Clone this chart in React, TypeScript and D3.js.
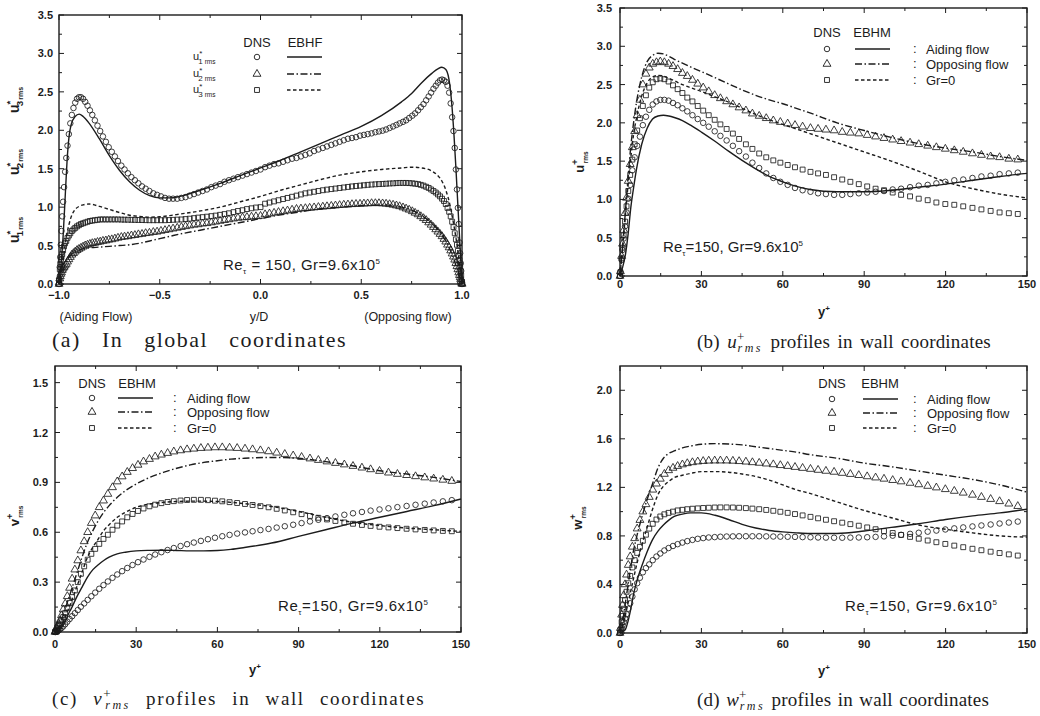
import * as d3 from "d3";

// y+ of the DNS points (same grid in every panel)
const wallGrid = [
  0, 0.15, 0.6, 0.94, 1.36, 1.85, 2.41, 3.05, 3.76, 4.55,
  5.4, 6.33, 7.34, 8.42, 9.56, 10.78, 12.07, 13.43, 14.85, 16.35,
  17.91, 19.53, 21.24, 23.0, 24.8, 26.7, 28.65, 30.66, 32.7, 34.9,
  37.0, 39.3, 41.6, 43.9, 46.4, 48.8, 51.3, 53.9, 56.5, 59.1,
  61.8, 64.5, 67.3, 70.2, 73.0, 75.9, 78.9, 81.9, 84.9, 88.0,
  91.1, 94.2, 97.3, 100.5, 103.6, 106.9, 110.1, 113.4, 116.6, 119.9,
  123.2, 126.5, 129.9, 133.2, 136.6, 139.9, 143.3, 146.6,
];
// y+ where the model curves were read
const modelGrid = [0, 1, 2, 3, 4, 5, 6, 8, 10, 12, 14, 16, 18, 20, 23, 26, 30, 35, 40, 45, 50, 55, 60, 65, 70, 80, 90, 100, 110, 120, 130, 140, 150];

// ---------- (a) global coordinates ----------
const aU1AidingSide = [
  0, 0.05, 0.22, 0.35, 0.51, 0.69, 0.88, 1.07, 1.26, 1.46,
  1.64, 1.8, 1.95, 2.09, 2.2, 2.29, 2.36, 2.41, 2.43, 2.43,
  2.41, 2.37, 2.32, 2.26, 2.2, 2.13, 2.06, 1.99, 1.92, 1.85,
  1.78, 1.72, 1.66, 1.6, 1.54, 1.49, 1.44, 1.39, 1.35, 1.31,
  1.27, 1.24, 1.21, 1.18, 1.16, 1.14, 1.12, 1.11, 1.11, 1.11,
  1.12, 1.13, 1.15, 1.17, 1.19, 1.21, 1.23, 1.26, 1.28, 1.3,
  1.33, 1.35, 1.37, 1.39, 1.41, 1.43, 1.45, 1.47, 1.49,
];
const aU1OpposingSide = [
  0, 0.04, 0.17, 0.27, 0.4, 0.54, 0.78, 0.99, 1.23, 1.49,
  1.77, 1.99, 2.17, 2.35, 2.49, 2.58, 2.63, 2.65, 2.66, 2.65,
  2.62, 2.58, 2.54, 2.49, 2.44, 2.39, 2.34, 2.3, 2.26, 2.22,
  2.19, 2.16, 2.13, 2.11, 2.09, 2.07, 2.05, 2.03, 2.01, 1.995,
  1.985, 1.975, 1.96, 1.95, 1.94, 1.93, 1.91, 1.9, 1.89, 1.87,
  1.85, 1.83, 1.81, 1.79, 1.77, 1.75, 1.73, 1.7, 1.68, 1.66,
  1.64, 1.63, 1.61, 1.59, 1.57, 1.56, 1.54, 1.52,
];
const aU2AidingSide = [
  0, 0.02, 0.07, 0.1, 0.13, 0.15, 0.18, 0.2, 0.22, 0.24,
  0.26, 0.29, 0.32, 0.35, 0.38, 0.4, 0.42, 0.44, 0.455, 0.47,
  0.485, 0.5, 0.51, 0.52, 0.53, 0.535, 0.545, 0.55, 0.56, 0.565,
  0.575, 0.58, 0.59, 0.6, 0.61, 0.615, 0.62, 0.63, 0.635, 0.645,
  0.65, 0.66, 0.665, 0.675, 0.68, 0.69, 0.7, 0.71, 0.72, 0.73,
  0.74, 0.75, 0.76, 0.77, 0.775, 0.785, 0.79, 0.8, 0.81, 0.82,
  0.83, 0.84, 0.85, 0.86, 0.865, 0.87, 0.875, 0.88, 0.885,
];
const aU2OpposingSide = [
  0, 0.01, 0.04, 0.06, 0.085, 0.115, 0.15, 0.19, 0.23, 0.27,
  0.315, 0.355, 0.395, 0.435, 0.475, 0.51, 0.55, 0.585, 0.62, 0.65,
  0.68, 0.71, 0.74, 0.77, 0.8, 0.83, 0.855, 0.88, 0.905, 0.925,
  0.945, 0.965, 0.98, 0.995, 1.01, 1.02, 1.03, 1.037, 1.043, 1.047,
  1.05, 1.05, 1.05, 1.047, 1.045, 1.042, 1.04, 1.037, 1.033, 1.03,
  1.025, 1.02, 1.015, 1.01, 1.005, 1.0, 0.995, 0.99, 0.985, 0.98,
  0.975, 0.965, 0.955, 0.945, 0.935, 0.925, 0.915, 0.905,
];
const aU3AidingSide = [
  0, 0.05, 0.19, 0.26, 0.31, 0.35, 0.39, 0.44, 0.49, 0.53,
  0.56, 0.6, 0.63, 0.66, 0.69, 0.71, 0.73, 0.75, 0.765, 0.78,
  0.79, 0.8, 0.81, 0.82, 0.825, 0.83, 0.835, 0.84, 0.84, 0.84,
  0.84, 0.84, 0.84, 0.84, 0.838, 0.837, 0.836, 0.835, 0.834, 0.833,
  0.832, 0.831, 0.83, 0.83, 0.83, 0.83, 0.83, 0.832, 0.835, 0.838,
  0.84, 0.845, 0.85, 0.857, 0.864, 0.87, 0.876, 0.883, 0.89, 0.9,
  0.91, 0.92, 0.935, 0.95, 0.96, 0.975, 0.985, 0.995, 1.0,
];
const aU3OpposingSide = [
  0, 0.03, 0.11, 0.17, 0.245, 0.31, 0.37, 0.43, 0.51, 0.58,
  0.66, 0.74, 0.81, 0.88, 0.94, 0.99, 1.04, 1.08, 1.11, 1.14,
  1.165, 1.19, 1.21, 1.23, 1.25, 1.265, 1.28, 1.29, 1.3, 1.305,
  1.31, 1.313, 1.315, 1.315, 1.315, 1.313, 1.31, 1.308, 1.305, 1.302,
  1.3, 1.297, 1.294, 1.29, 1.285, 1.28, 1.275, 1.27, 1.263, 1.256,
  1.249, 1.242, 1.235, 1.228, 1.22, 1.21, 1.2, 1.19, 1.18, 1.165,
  1.15, 1.135, 1.12, 1.105, 1.09, 1.075, 1.06, 1.045,
];
const aModelX = [-1, -0.99, -0.98, -0.97, -0.96, -0.95, -0.94, -0.92, -0.9, -0.88, -0.85, -0.8, -0.75, -0.7, -0.65, -0.6, -0.55, -0.5, -0.45, -0.4, -0.3, -0.2, -0.1, 0, 0.1, 0.2, 0.3, 0.4, 0.5, 0.6, 0.7, 0.75, 0.8, 0.85, 0.88, 0.9, 0.92, 0.94, 0.95, 0.96, 0.97, 0.98, 0.99, 1];
const aU1Model = [0, 0.25, 0.6, 1.1, 1.6, 1.92, 2.07, 2.18, 2.21, 2.18, 2.09, 1.89, 1.67, 1.48, 1.33, 1.22, 1.15, 1.12, 1.12, 1.14, 1.22, 1.31, 1.41, 1.51, 1.61, 1.72, 1.83, 1.94, 2.05, 2.19, 2.37, 2.48, 2.62, 2.74, 2.8, 2.82, 2.79, 2.58, 2.32, 1.95, 1.5, 1.0, 0.5, 0];
const aU2Model = [0, 0.08, 0.17, 0.25, 0.31, 0.35, 0.38, 0.42, 0.44, 0.46, 0.47, 0.48, 0.49, 0.5, 0.51, 0.53, 0.56, 0.59, 0.62, 0.65, 0.7, 0.75, 0.8, 0.85, 0.9, 0.94, 0.98, 1.0, 1.02, 1.03, 1.0, 0.96, 0.89, 0.79, 0.71, 0.64, 0.56, 0.45, 0.39, 0.32, 0.24, 0.16, 0.08, 0];
const aU3Model = [0, 0.15, 0.3, 0.5, 0.66, 0.78, 0.87, 0.97, 1.01, 1.03, 1.04, 1.01, 0.97, 0.93, 0.895, 0.88, 0.87, 0.875, 0.89, 0.91, 0.95, 1.0, 1.07, 1.14, 1.22, 1.29, 1.36, 1.42, 1.46, 1.49, 1.51, 1.52, 1.51, 1.47, 1.41, 1.34, 1.22, 1.03, 0.9, 0.76, 0.6, 0.42, 0.22, 0];

// ---------- (b) u+rms ----------
const bAidingDns = [
  0, 0.05, 0.21, 0.34, 0.49, 0.65, 0.83, 1.01, 1.19, 1.38,
  1.55, 1.7, 1.82, 1.97, 2.08, 2.17, 2.24, 2.28, 2.3, 2.3,
  2.29, 2.26, 2.23, 2.19, 2.15, 2.1, 2.05, 2.0, 1.95, 1.89,
  1.83, 1.77, 1.7, 1.63, 1.56, 1.48, 1.41, 1.34, 1.28, 1.23,
  1.19, 1.15, 1.12, 1.1, 1.08, 1.07, 1.06, 1.06, 1.07, 1.08,
  1.09, 1.1, 1.11, 1.13, 1.14, 1.16, 1.18, 1.19, 1.21, 1.23,
  1.25, 1.26, 1.28, 1.3, 1.31, 1.33, 1.34, 1.35,
];
const bOpposingDns = [
  0, 0.06, 0.26, 0.42, 0.6, 0.82, 1.02, 1.24, 1.46, 1.68,
  1.89, 2.1, 2.3, 2.5, 2.64, 2.72, 2.77, 2.79, 2.8, 2.79,
  2.77, 2.74, 2.7, 2.65, 2.61, 2.56, 2.51, 2.46, 2.41, 2.36,
  2.32, 2.28, 2.24, 2.2, 2.16, 2.12, 2.09, 2.06, 2.03, 2.01,
  1.99, 1.97, 1.95, 1.93, 1.92, 1.91, 1.9, 1.88, 1.87, 1.86,
  1.84, 1.82, 1.8, 1.78, 1.76, 1.74, 1.72, 1.7, 1.68, 1.66,
  1.64, 1.62, 1.6, 1.58, 1.56, 1.55, 1.53, 1.52,
];
const bGr0Dns = [
  0, 0.05, 0.23, 0.37, 0.53, 0.71, 0.91, 1.11, 1.32, 1.52,
  1.72, 1.9, 2.06, 2.22, 2.36, 2.46, 2.53, 2.57, 2.58, 2.57,
  2.54, 2.49, 2.44, 2.39, 2.33, 2.28, 2.22, 2.16, 2.1, 2.04,
  1.98, 1.92, 1.86, 1.79, 1.72, 1.66, 1.6, 1.55, 1.51, 1.48,
  1.45, 1.42, 1.39, 1.36, 1.34, 1.32, 1.29, 1.26, 1.23, 1.2,
  1.17, 1.14, 1.12, 1.09, 1.06, 1.04, 1.01, 0.99, 0.96, 0.94,
  0.93, 0.91, 0.89, 0.87, 0.85, 0.83, 0.82, 0.81,
];
const bAidingModel = [0, 0.12, 0.28, 0.55, 0.9, 1.15, 1.38, 1.72, 1.93, 2.05, 2.09, 2.1, 2.09, 2.07, 2.03, 1.97, 1.88, 1.76, 1.63, 1.51, 1.4, 1.3, 1.23, 1.17, 1.13, 1.1, 1.1, 1.12, 1.16, 1.2, 1.25, 1.3, 1.34];
const bOpposingModel = [0, 0.4, 0.85, 1.3, 1.7, 2.0, 2.25, 2.6, 2.8, 2.88, 2.91, 2.9, 2.87, 2.83, 2.78, 2.73, 2.67, 2.59, 2.51, 2.43, 2.36, 2.3, 2.25, 2.19, 2.13, 2.0, 1.9, 1.81, 1.73, 1.67, 1.62, 1.56, 1.51];
const bGr0Model = [0, 0.38, 0.8, 1.2, 1.55, 1.85, 2.05, 2.35, 2.52, 2.6, 2.62, 2.61, 2.58, 2.55, 2.5, 2.46, 2.41, 2.34, 2.27, 2.19, 2.11, 2.04, 1.98, 1.92, 1.86, 1.74, 1.62, 1.5, 1.37, 1.23, 1.14, 1.07, 1.02];

// ---------- (c) v+rms ----------
const cAidingDns = [
  0, 0, 0.002, 0.005, 0.01, 0.016, 0.024, 0.034, 0.047, 0.062,
  0.078, 0.095, 0.113, 0.132, 0.152, 0.172, 0.193, 0.215, 0.237, 0.26,
  0.282, 0.304, 0.326, 0.346, 0.366, 0.385, 0.403, 0.42, 0.436, 0.452,
  0.466, 0.48, 0.493, 0.505, 0.517, 0.528, 0.538, 0.548, 0.558, 0.567,
  0.576, 0.584, 0.592, 0.599, 0.606, 0.613, 0.62, 0.628, 0.636, 0.645,
  0.655, 0.665, 0.675, 0.685, 0.695, 0.705, 0.714, 0.722, 0.73, 0.737,
  0.744, 0.751, 0.758, 0.765, 0.772, 0.779, 0.786, 0.793,
];
const cOpposingDns = [
  0, 0.005, 0.02, 0.035, 0.05, 0.07, 0.1, 0.135, 0.17, 0.215,
  0.265, 0.32, 0.375, 0.43, 0.49, 0.545, 0.6, 0.655, 0.7, 0.75,
  0.79, 0.83, 0.87, 0.905, 0.935, 0.962, 0.985, 1.005, 1.025, 1.04,
  1.055, 1.066, 1.076, 1.085, 1.092, 1.098, 1.102, 1.106, 1.108, 1.11,
  1.11, 1.108, 1.106, 1.102, 1.098, 1.092, 1.086, 1.078, 1.07, 1.061,
  1.052, 1.043, 1.034, 1.025, 1.016, 1.007, 0.998, 0.988, 0.978, 0.968,
  0.958, 0.95, 0.943, 0.936, 0.929, 0.922, 0.915, 0.908,
];
const cGr0Dns = [
  0, 0.003, 0.012, 0.022, 0.035, 0.05, 0.07, 0.09, 0.115, 0.145,
  0.175, 0.21, 0.25, 0.3, 0.35, 0.395, 0.435, 0.47, 0.5, 0.53,
  0.56, 0.585, 0.615, 0.64, 0.665, 0.69, 0.71, 0.728, 0.743, 0.756,
  0.766, 0.775, 0.782, 0.787, 0.791, 0.794, 0.795, 0.795, 0.793, 0.79,
  0.786, 0.781, 0.776, 0.77, 0.764, 0.757, 0.75, 0.741, 0.731, 0.72,
  0.709, 0.698, 0.687, 0.677, 0.668, 0.659, 0.651, 0.644, 0.638, 0.633,
  0.629, 0.625, 0.621, 0.617, 0.614, 0.611, 0.608, 0.606,
];
const cAidingModel = [0, 0.005, 0.02, 0.04, 0.07, 0.11, 0.14, 0.21, 0.27, 0.33, 0.375, 0.405, 0.43, 0.45, 0.47, 0.48, 0.488, 0.491, 0.492, 0.49, 0.488, 0.488, 0.49, 0.497, 0.508, 0.535, 0.575, 0.615, 0.655, 0.69, 0.725, 0.76, 0.8];
const cOpposingModel = [0, 0.02, 0.05, 0.1, 0.15, 0.2, 0.25, 0.35, 0.45, 0.54, 0.61, 0.67, 0.72, 0.76, 0.81, 0.85, 0.89, 0.93, 0.96, 0.985, 1.005, 1.02, 1.03, 1.04, 1.045, 1.05, 1.045, 1.025, 1.0, 0.97, 0.95, 0.93, 0.905];
const cGr0Model = [0, 0.01, 0.03, 0.06, 0.1, 0.14, 0.18, 0.27, 0.36, 0.45, 0.51, 0.56, 0.61, 0.645, 0.69, 0.72, 0.75, 0.77, 0.78, 0.785, 0.787, 0.787, 0.785, 0.78, 0.772, 0.755, 0.725, 0.69, 0.66, 0.64, 0.625, 0.615, 0.605];

// ---------- (d) w+rms ----------
const dAidingDns = [
  0, 0.01, 0.04, 0.065, 0.09, 0.12, 0.155, 0.2, 0.245, 0.3,
  0.36, 0.41, 0.455, 0.5, 0.535, 0.565, 0.6, 0.63, 0.655, 0.68,
  0.7, 0.717, 0.732, 0.745, 0.757, 0.767, 0.776, 0.782, 0.787, 0.79,
  0.793, 0.795, 0.796, 0.797, 0.797, 0.797, 0.797, 0.796, 0.795, 0.794,
  0.793, 0.792, 0.79, 0.789, 0.787, 0.786, 0.785, 0.785, 0.786, 0.787,
  0.789, 0.792, 0.796, 0.802, 0.809, 0.817, 0.826, 0.835, 0.844, 0.853,
  0.862, 0.87, 0.878, 0.886, 0.894, 0.902, 0.91, 0.918,
];
const dOpposingDns = [
  0, 0.04, 0.15, 0.23, 0.31, 0.4, 0.48, 0.56, 0.63, 0.71,
  0.78, 0.86, 0.93, 1.0, 1.06, 1.12, 1.18, 1.23, 1.27, 1.31,
  1.34, 1.36, 1.375, 1.388, 1.398, 1.406, 1.412, 1.416, 1.419, 1.42,
  1.42, 1.42, 1.418, 1.415, 1.411, 1.406, 1.401, 1.395, 1.389, 1.382,
  1.375, 1.367, 1.359, 1.351, 1.343, 1.335, 1.327, 1.318, 1.309, 1.3,
  1.29, 1.28, 1.27, 1.259, 1.248, 1.236, 1.224, 1.211, 1.198, 1.184,
  1.17, 1.155, 1.138, 1.12, 1.103, 1.085, 1.065, 1.045,
];
const dGr0Dns = [
  0, 0.025, 0.09, 0.14, 0.2, 0.27, 0.34, 0.41, 0.47, 0.54,
  0.6, 0.66, 0.71, 0.76, 0.81, 0.86, 0.9, 0.935, 0.96, 0.978,
  0.99, 1.0, 1.01, 1.015, 1.02, 1.024, 1.027, 1.03, 1.032, 1.034,
  1.035, 1.035, 1.034, 1.032, 1.029, 1.025, 1.02, 1.014, 1.007, 0.999,
  0.99, 0.98, 0.969, 0.957, 0.945, 0.933, 0.921, 0.909, 0.897, 0.884,
  0.87, 0.855, 0.84, 0.824, 0.808, 0.792, 0.777, 0.762, 0.748, 0.734,
  0.72, 0.707, 0.694, 0.682, 0.67, 0.659, 0.648, 0.638,
];
const dAidingModel = [0, 0.01, 0.03, 0.1, 0.2, 0.32, 0.41, 0.55, 0.67, 0.77, 0.84, 0.89, 0.93, 0.96, 0.98, 0.99, 0.99, 0.97, 0.935, 0.895, 0.865, 0.845, 0.833, 0.825, 0.82, 0.82, 0.84, 0.87, 0.9, 0.935, 0.965, 0.99, 1.02];
const dOpposingModel = [0, 0.1, 0.25, 0.4, 0.55, 0.68, 0.78, 0.95, 1.1, 1.23, 1.36, 1.44, 1.48, 1.5, 1.525, 1.54, 1.555, 1.56, 1.557, 1.55, 1.535, 1.52, 1.505, 1.49, 1.47, 1.44, 1.4, 1.37, 1.335, 1.3, 1.265, 1.22, 1.16];
const dGr0Model = [0, 0.06, 0.15, 0.25, 0.35, 0.45, 0.55, 0.72, 0.87, 1.02, 1.14, 1.21, 1.25, 1.28, 1.3, 1.315, 1.33, 1.33, 1.325, 1.31, 1.29, 1.26, 1.22, 1.18, 1.15, 1.08, 1.01, 0.95, 0.89, 0.855, 0.825, 0.8, 0.79];

// ticks
const aXTicks = [-1, -0.5, 0, 0.5, 1];
const aXMinor = [-0.75, -0.25, 0.25, 0.75];
const uYTicks = [0, 0.5, 1, 1.5, 2, 2.5, 3, 3.5];
const uYMinor = [0.25, 0.75, 1.25, 1.75, 2.25, 2.75, 3.25];
const wallXTicks = [0, 30, 60, 90, 120, 150];
const wallXMinor = [15, 45, 75, 105, 135];
const vYTicks = [0, 0.3, 0.6, 0.9, 1.2, 1.5];
const vYMinor = [0.15, 0.45, 0.75, 1.05, 1.35];
const wYTicks = [0, 0.4, 0.8, 1.2, 1.6, 2.0];
const wYMinor = [0.2, 0.6, 1.0, 1.4, 1.8];

const ink = "#1c1c1c";
const SANS = "'Liberation Sans', Arial, sans-serif";
const SERIF = "'Liberation Serif', 'Times New Roman', serif";
const DASHDOT = "7,2.5,1.5,2.5";
const DASHED = "3.5,2.5";

type Mark = "circle" | "triangle" | "square";
interface Layer { xs: number[]; ys: number[]; mark?: Mark; dash?: string }
interface Box { left: number; right: number; top: number; bottom: number }

const markPath: Record<Mark, string> = {
  circle: d3.symbol(d3.symbolCircle, 24)() as string,
  triangle: d3.symbol(d3.symbolTriangle, 27)() as string,
  square: d3.symbol(d3.symbolSquare, 24)() as string,
};

interface PlotProps {
  box: Box;
  xDomain: [number, number];
  yDomain: [number, number];
  xTicks: number[];
  xMinor: number[];
  yTicks: number[];
  yMinor: number[];
  xFmt: (v: number) => string;
  layers: Layer[];
  xGap: number;
  yGap: number;
}

function Plot({ box, xDomain, yDomain, xTicks, xMinor, yTicks, yMinor, xFmt, layers, xGap, yGap }: PlotProps) {
  const x = d3.scaleLinear().domain(xDomain).range([box.left, box.right]);
  const y = d3.scaleLinear().domain(yDomain).range([box.bottom, box.top]);
  const yFmt = d3.format(".1f");
  return (
    <g>
      {layers.map((l, i) =>
        l.mark ? (
          <g key={i}>
            {l.ys.map((v, j) => (
              <path key={j} d={markPath[l.mark!]} transform={`translate(${x(l.xs[j])},${y(v)})`} fill="none" stroke={ink} strokeWidth={0.85} />
            ))}
          </g>
        ) : (
          <path
            key={i}
            d={d3.line<number>().x((_, j) => x(l.xs[j])).y((v) => y(v)).curve(d3.curveMonotoneX)(l.ys) ?? ""}
            fill="none"
            stroke={ink}
            strokeWidth={1.4}
            strokeDasharray={l.dash}
          />
        )
      )}
      <rect x={box.left} y={box.top} width={box.right - box.left} height={box.bottom - box.top} fill="none" stroke={ink} strokeWidth={1.4} />
      <g stroke={ink} strokeWidth={1}>
        {xTicks.map((v) => (
          <g key={`xt${v}`}>
            <line x1={x(v)} x2={x(v)} y1={box.bottom} y2={box.bottom - 5} />
            <line x1={x(v)} x2={x(v)} y1={box.top} y2={box.top + 5} />
          </g>
        ))}
        {xMinor.map((v) => (
          <g key={`xm${v}`}>
            <line x1={x(v)} x2={x(v)} y1={box.bottom} y2={box.bottom - 3} />
            <line x1={x(v)} x2={x(v)} y1={box.top} y2={box.top + 3} />
          </g>
        ))}
        {yTicks.map((v) => (
          <g key={`yt${v}`}>
            <line x1={box.left} x2={box.left + 5} y1={y(v)} y2={y(v)} />
            <line x1={box.right} x2={box.right - 5} y1={y(v)} y2={y(v)} />
          </g>
        ))}
        {yMinor.map((v) => (
          <g key={`ym${v}`}>
            <line x1={box.left} x2={box.left + 3} y1={y(v)} y2={y(v)} />
            <line x1={box.right} x2={box.right - 3} y1={y(v)} y2={y(v)} />
          </g>
        ))}
      </g>
      <g fontFamily={SANS} fontSize={11} fontWeight="bold" fill={ink}>
        {xTicks.map((v) => (
          <text key={`xl${v}`} x={x(v)} y={box.bottom + xGap} textAnchor="middle">{xFmt(v)}</text>
        ))}
        {yTicks.map((v) => (
          <text key={`yl${v}`} x={box.left - yGap} y={y(v) + 4} textAnchor="end">{yFmt(v)}</text>
        ))}
      </g>
    </g>
  );
}

function WallLegend({ dnsX, ebX, headY, rows, lx0, lx1, colonX, textX }: { dnsX: number; ebX: number; headY: number; rows: number[]; lx0: number; lx1: number; colonX: number; textX: number }) {
  const names = ["Aiding flow", "Opposing flow", "Gr=0"];
  const marks: Mark[] = ["circle", "triangle", "square"];
  const dashes = [undefined, DASHDOT, DASHED];
  return (
    <g fontFamily={SANS} fontSize={13} fill={ink}>
      <text x={dnsX} y={headY} textAnchor="middle">DNS</text>
      <text x={ebX} y={headY} textAnchor="middle">EBHM</text>
      {rows.map((ry, i) => (
        <g key={i}>
          <path d={markPath[marks[i]]} transform={`translate(${dnsX},${ry})`} fill="none" stroke={ink} strokeWidth={0.9} />
          <line x1={lx0} x2={lx1} y1={ry} y2={ry} stroke={ink} strokeWidth={1.4} strokeDasharray={dashes[i]} />
          <text x={colonX} y={ry + 4}>:</text>
          <text x={textX} y={ry + 4.5}>{names[i]}</text>
        </g>
      ))}
    </g>
  );
}

function ReLabel({ x, y, width, wide }: { x: number; y: number; width: number; wide?: boolean }) {
  return (
    <text x={x} y={y} fontFamily={SANS} fontSize={15} fill={ink} textLength={width} lengthAdjust="spacing">
      Re<tspan dy={4} fontSize={8}>τ</tspan>
      <tspan dy={-4}>{wide ? " = 150, Gr=9.6x10" : "=150,  Gr=9.6x10"}</tspan>
      <tspan dy={-6} fontSize={8}>5</tspan>
    </text>
  );
}

function RmsLabel({ x, y, letter, mark, idx, size }: { x: number; y: number; letter: string; mark: string; idx?: string; size: number }) {
  return (
    <text transform={`translate(${x},${y}) rotate(-90)`} textAnchor="middle" fontFamily={SANS} fontWeight="bold" fontSize={size} fill={ink}>
      {letter}
      <tspan dy={-size * 0.45} fontSize={size * 0.7}>{mark}</tspan>
      {idx ? <tspan dx={-size * 0.4} dy={size * 0.75} fontSize={size * 0.7}>{idx}</tspan> : null}
      <tspan dx={idx ? 1 : -size * 0.3} dy={idx ? 0 : size * 0.75} fontSize={size * 0.5}>rms</tspan>
    </text>
  );
}

function WallCaption({ x, y, tag, letter, spacing, words }: { x: number; y: number; tag: string; letter: string; spacing: number; words: number }) {
  return (
    <text x={x} y={y} fontFamily={SERIF} fontSize={19} fill={ink} letterSpacing={spacing} wordSpacing={words}>
      {tag} <tspan fontStyle="italic">{letter}</tspan>
      <tspan dy={-7} fontSize={13}>+</tspan>
      <tspan dx={-7} dy={11} fontSize={12} fontStyle="italic" letterSpacing={2.5}>rms</tspan>
      <tspan dy={-4}> profiles in wall coordinates</tspan>
    </text>
  );
}

export default function App() {
  const boxA: Box = { left: 59, right: 462, top: 15, bottom: 284 };
  const boxB: Box = { left: 620, right: 1027, top: 8, bottom: 276 };
  const boxC: Box = { left: 55, right: 461, top: 366, bottom: 632 };
  const boxD: Box = { left: 620, right: 1027, top: 366, bottom: 633 };

  const aLeftX = [...wallGrid, 150].map((g) => -1 + g / 150);
  const aRightX = wallGrid.map((g) => 1 - g / 150);
  const intFmt = d3.format("d");

  const layersA: Layer[] = [
    { xs: aLeftX, ys: aU1AidingSide, mark: "circle" },
    { xs: aRightX, ys: aU1OpposingSide, mark: "circle" },
    { xs: aLeftX, ys: aU2AidingSide, mark: "triangle" },
    { xs: aRightX, ys: aU2OpposingSide, mark: "triangle" },
    { xs: aLeftX, ys: aU3AidingSide, mark: "square" },
    { xs: aRightX, ys: aU3OpposingSide, mark: "square" },
    { xs: aModelX, ys: aU1Model },
    { xs: aModelX, ys: aU2Model, dash: DASHDOT },
    { xs: aModelX, ys: aU3Model, dash: DASHED },
  ];
  const wallLayers = (aid: number[], opp: number[], gr0: number[], aidM: number[], oppM: number[], gr0M: number[]): Layer[] => [
    { xs: wallGrid, ys: aid, mark: "circle" },
    { xs: wallGrid, ys: opp, mark: "triangle" },
    { xs: wallGrid, ys: gr0, mark: "square" },
    { xs: modelGrid, ys: aidM },
    { xs: modelGrid, ys: oppM, dash: DASHDOT },
    { xs: modelGrid, ys: gr0M, dash: DASHED },
  ];

  return (
    <svg width={1040} height={716} style={{ position: "absolute", left: 0, top: 0, background: "#fff" }}>
      <rect width={1040} height={716} fill="#fff" />

      {/* (a) */}
      <Plot box={boxA} xDomain={[-1, 1]} yDomain={[0, 3.5]} xTicks={aXTicks} xMinor={aXMinor} yTicks={uYTicks} yMinor={uYMinor} xFmt={d3.format(".1f")} layers={layersA} xGap={15} yGap={6} />
      <RmsLabel x={19} y={230} letter="u" mark="*" idx="1" size={14} />
      <RmsLabel x={19} y={162} letter="u" mark="*" idx="2" size={14} />
      <RmsLabel x={19} y={100} letter="u" mark="*" idx="3" size={14} />
      <g fontFamily={SANS} fontSize={13} fill={ink}>
        <text x={257} y={47} textAnchor="middle">DNS</text>
        <text x={305} y={47} textAnchor="middle">EBHF</text>
        {[57, 74, 90].map((ry, i) => (
          <g key={i}>
            <text x={193} y={ry + 3} fontSize={11}>
              u<tspan dy={-4} fontSize={8}>*</tspan>
              <tspan dx={-4} dy={8} fontSize={8}>{i + 1}</tspan>
              <tspan dx={2} fontSize={6.5}>rms</tspan>
            </text>
            <path d={markPath[(["circle", "triangle", "square"] as Mark[])[i]]} transform={`translate(257,${ry})`} fill="none" stroke={ink} strokeWidth={0.9} />
            <line x1={287} x2={322} y1={ry} y2={ry} stroke={ink} strokeWidth={1.4} strokeDasharray={[undefined, DASHDOT, DASHED][i]} />
          </g>
        ))}
      </g>
      <ReLabel x={223} y={270} width={157} wide />
      <g fontFamily={SANS} fontSize={12.5} fill={ink} textAnchor="middle">
        <text x={96} y={321}>(Aiding Flow)</text>
        <text x={259} y={321}>y/D</text>
        <text x={408} y={321}>(Opposing flow)</text>
      </g>
      <text x={52} y={347} fontFamily={SERIF} fontSize={22} fill={ink} letterSpacing={1.5} wordSpacing={14}>(a) In global coordinates</text>

      {/* (b) */}
      <Plot box={boxB} xDomain={[0, 150]} yDomain={[0, 3.5]} xTicks={wallXTicks} xMinor={wallXMinor} yTicks={uYTicks} yMinor={uYMinor} xFmt={intFmt} layers={wallLayers(bAidingDns, bOpposingDns, bGr0Dns, bAidingModel, bOpposingModel, bGr0Model)} xGap={12} yGap={8} />
      <WallLegend dnsX={827} ebX={872} headY={37} rows={[49, 64, 80]} lx0={855} lx1={890} colonX={913} textX={926} />
      <ReLabel x={663} y={252} width={140} />
      <RmsLabel x={584} y={162} letter="u" mark="+" size={13} />
      <text x={818} y={316} fontFamily={SANS} fontWeight="bold" fontSize={13} fill={ink}>y<tspan dy={-5} fontSize={8}>+</tspan></text>
      <WallCaption x={697} y={348} tag="(b)" letter="u" spacing={0.2} words={2.5} />

      {/* (c) */}
      <Plot box={boxC} xDomain={[0, 150]} yDomain={[0, 1.6]} xTicks={wallXTicks} xMinor={wallXMinor} yTicks={vYTicks} yMinor={vYMinor} xFmt={intFmt} layers={wallLayers(cAidingDns, cOpposingDns, cGr0Dns, cAidingModel, cOpposingModel, cGr0Model)} xGap={16} yGap={7} />
      <WallLegend dnsX={92} ebX={137} headY={388} rows={[398, 412, 428]} lx0={118} lx1={153} colonX={173} textX={187} />
      <ReLabel x={278} y={611} width={150} />
      <RmsLabel x={19} y={516} letter="v" mark="+" size={13} />
      <text x={249} y={674} fontFamily={SANS} fontWeight="bold" fontSize={13} fill={ink}>y<tspan dy={-5} fontSize={8}>+</tspan></text>
      <WallCaption x={52} y={705} tag="(c)" letter="v" spacing={1.6} words={9} />

      {/* (d) */}
      <Plot box={boxD} xDomain={[0, 150]} yDomain={[0, 2.2]} xTicks={wallXTicks} xMinor={wallXMinor} yTicks={wYTicks} yMinor={wYMinor} xFmt={intFmt} layers={wallLayers(dAidingDns, dOpposingDns, dGr0Dns, dAidingModel, dOpposingModel, dGr0Model)} xGap={15} yGap={8} />
      <WallLegend dnsX={832} ebX={880} headY={388} rows={[399, 413, 428]} lx0={863} lx1={898} colonX={913} textX={927} />
      <ReLabel x={845} y={611} width={152} />
      <RmsLabel x={582} y={518} letter="w" mark="+" size={13} />
      <text x={818} y={675} fontFamily={SANS} fontWeight="bold" fontSize={13} fill={ink}>y<tspan dy={-5} fontSize={8}>+</tspan></text>
      <WallCaption x={697} y={706} tag="(d)" letter="w" spacing={0.2} words={1.5} />
    </svg>
  );
}
